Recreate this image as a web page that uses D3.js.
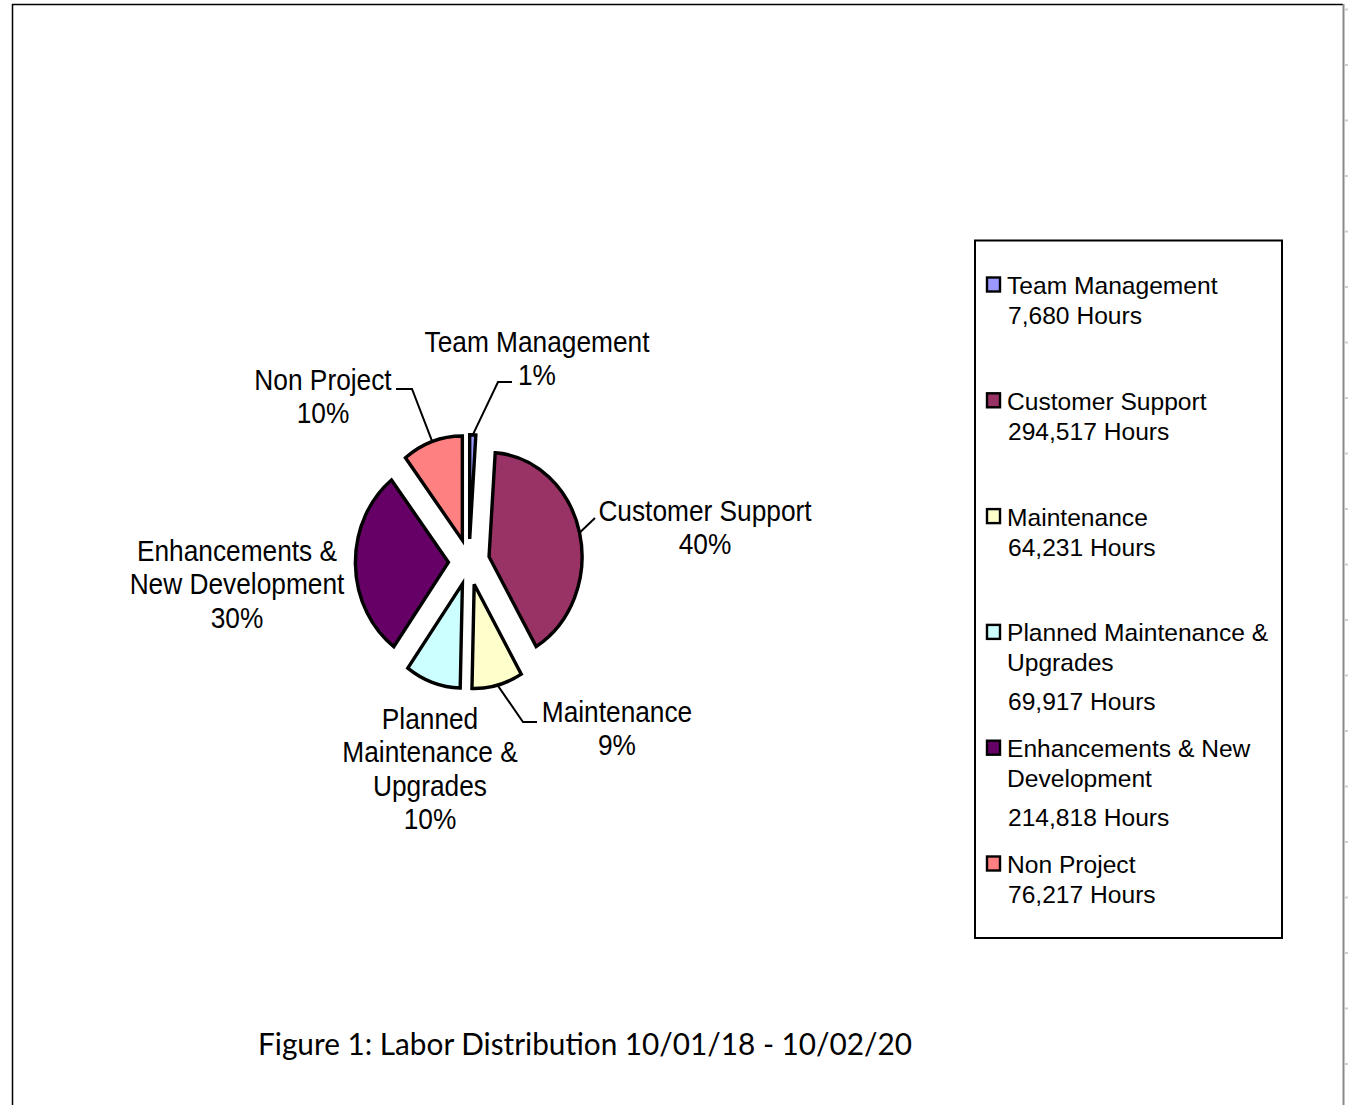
<!DOCTYPE html>
<html>
<head>
<meta charset="utf-8">
<script src="https://cdn.jsdelivr.net/npm/d3@7"></script>
<style>
  body { margin: 0; background: #fff; }
  svg { display: block; }
</style>
</head>
<body>
<div id="app"></div>
<script>
'use strict'
// labor hours per category, in pie order (clockwise from 12 o'clock)
const categories = ['Team Management', 'Customer Support', 'Maintenance',
  'Planned Maintenance & Upgrades', 'Enhancements & New Development', 'Non Project']
const hours = [7680, 294517, 64231, 69917, 214818, 76217]
const colors = ['#9999FF', '#993366', '#FFFFCC', '#CCFFFF', '#660066', '#FF8080']
// how the names wrap on the pie and in the legend
const pieLabelLines = [
  ['Team Management'], ['Customer Support'], ['Maintenance'],
  ['Planned', 'Maintenance &', 'Upgrades'], ['Enhancements &', 'New Development'], ['Non Project']
]
const legendLines = [
  ['Team Management'], ['Customer Support'], ['Maintenance'],
  ['Planned Maintenance &', 'Upgrades'], ['Enhancements & New', 'Development'], ['Non Project']
]
const caption = 'Figure 1: Labor Distribution 10/01/18 - 10/02/20'

const width = 1348
const height = 1105
const svg = d3.select('#app').append('svg')
  .attr('width', width)
  .attr('height', height)

/*
* page frame: black left/top, grey right edge with small ticks
*/
svg.append('path')
  .attr('d', `M12.5,${height} V4.5 H1343`)
  .attr('fill', 'none')
  .attr('stroke', '#000')
  .attr('stroke-width', 1.5)
svg.append('line')
  .attr('x1', 1343.5).attr('x2', 1343.5)
  .attr('y1', 4).attr('y2', height)
  .attr('stroke', '#8a8a8a')
  .attr('stroke-width', 2)
svg.selectAll('rect.tick')
  .data(d3.range(9.5, height, 55.5))
  .enter().append('rect')
  .attr('class', 'tick')
  .attr('x', 1345).attr('y', d => d - 1)
  .attr('width', 3).attr('height', 2)
  .attr('fill', '#cfcfcf')

// pie geometry (the original is slightly stretched vertically)
const cx = 469
const cy = 562
const radius = 93
const stretch = 1.12
const explode = 20.6

const total = d3.sum(hours)
const pct = v => Math.round(v / total * 100) + '%'

const pie = d3.pie().sort(null).value(d => d)
const arcs = pie(hours)
const arc = d3.arc().innerRadius(0).outerRadius(radius)
const mid = d => (d.startAngle + d.endAngle) / 2

const pieG = svg.append('g')
  .attr('transform', `translate(${cx},${cy}) scale(1,${stretch})`)

pieG.selectAll('path')
  .data(arcs)
  .enter().append('path')
  .attr('d', arc)
  .attr('transform', d => `translate(${explode * Math.sin(mid(d))},${-explode * Math.cos(mid(d))})`)
  .attr('fill', (d, i) => colors[i])
  .attr('stroke', '#000')
  .attr('stroke-width', 3.4)
  .attr('stroke-linejoin', 'miter')
  .attr('vector-effect', 'non-scaling-stroke')

/*
* data labels: where each text block sits, and the elbow of its leader line
* (null = no leader)
*/
const labelLayout = [
  { x: 537, y: 352, leader: [[498, 382], [512, 382]] },
  { x: 705, y: 521, leader: [[595, 518]] },
  { x: 617, y: 722, leader: [[523, 722], [537, 722]] },
  { x: 430, y: 729, leader: null },
  { x: 237, y: 561, leader: null },
  { x: 323, y: 390, leader: [[412, 389], [396, 389]] }
]
const textStretch = 1.1
const lineStep = 33.5

const edgePoint = d => {
  const a = mid(d)
  const r = radius + explode
  return [cx + r * Math.sin(a), cy - r * Math.cos(a) * stretch]
}

svg.selectAll('path.leader')
  .data(arcs.filter((d, i) => labelLayout[i].leader))
  .enter().append('path')
  .attr('class', 'leader')
  .attr('d', d => d3.line()([edgePoint(d)].concat(labelLayout[d.index].leader)))
  .attr('fill', 'none')
  .attr('stroke', '#000')
  .attr('stroke-width', 2)

const labels = svg.selectAll('text.label')
  .data(arcs)
  .enter().append('text')
  .attr('class', 'label')
  .attr('transform', d => `translate(${labelLayout[d.index].x},${labelLayout[d.index].y}) scale(1,${textStretch})`)
  .style('font-family', '"Liberation Sans", Arial, sans-serif')
  .style('font-size', '26.3px')
  .style('text-anchor', 'middle')
  .style('fill', '#000')

labels.selectAll('tspan')
  .data(d => pieLabelLines[d.index].concat([pct(d.value)]))
  .enter().append('tspan')
  .attr('x', 0)
  .attr('dy', (d, i) => i === 0 ? 0 : lineStep / textStretch)
  .text(d => d)

/*
* legend box on the right
*/
const legend = svg.append('g')
svg.append('rect')
  .attr('x', 975).attr('y', 240.5)
  .attr('width', 307).attr('height', 697.5)
  .attr('fill', 'none')
  .attr('stroke', '#000')
  .attr('stroke-width', 2)

const legendTop = 294
const legendStep = 115.8
const entry = legend.selectAll('g.entry')
  .data(categories)
  .enter().append('g')
  .attr('class', 'entry')
  .attr('transform', (d, i) => `translate(0,${legendTop + i * legendStep})`)

entry.append('rect')
  .attr('x', 987).attr('y', -16.5)
  .attr('width', 13).attr('height', 14)
  .attr('fill', (d, i) => colors[i])
  .attr('stroke', '#000')
  .attr('stroke-width', 2.4)

const legendText = entry.append('text')
  .style('font-family', '"Liberation Sans", Arial, sans-serif')
  .style('font-size', '24.6px')
  .style('fill', '#000')

legendText.selectAll('tspan')
  .data((d, i) => {
    const lines = legendLines[i].map(t => ({ t: t, x: 1007 }))
    lines.push({ t: d3.format(',')(hours[i]) + ' Hours', x: 1008, last: true })
    return lines.map((l, j) => Object.assign(l, { multi: legendLines[i].length > 1, j: j }))
  })
  .enter().append('tspan')
  .attr('x', d => d.x)
  .attr('dy', d => d.j === 0 ? 0 : (d.last && d.multi ? 39 : 30))
  .text(d => d.t)

// caption under the chart
svg.append('text')
  .attr('transform', 'translate(258,1055) scale(1,1.08)')
  .attr('textLength', 654)
  .attr('lengthAdjust', 'spacingAndGlyphs')
  .style('font-family', 'Lato, "Open Sans", sans-serif')
  .style('font-size', '28px')
  .style('fill', '#000')
  .text(caption)
</script>
</body>
</html>
